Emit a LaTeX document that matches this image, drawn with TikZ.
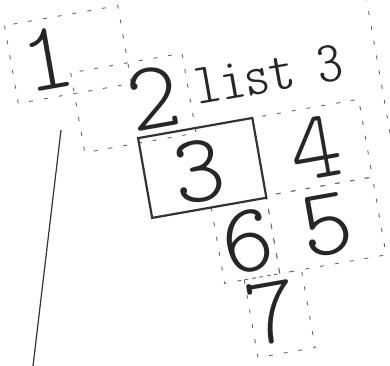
\documentclass[tikz,border=0pt]{standalone}
\usepackage{fontspec}
\begin{document}
\begin{tikzpicture}[x=1pt, y=-1pt,
  cell/.style={draw=black!60, line width=0.9pt, dash pattern=on 4pt off 11pt},
  digit/.style={inner sep=0pt, text=black!85, transform shape,
    font=\ttfamily\fontseries{l}\fontsize{98}{98}\selectfont}]
  \useasboundingbox (0,0) rectangle (390,365);
  \clip (0,0) rectangle (390,365);
  \begin{scope}[rotate=10]
    \draw[cell] (0,26) rectangle (115,105);
    \draw[cell] (57,84) rectangle (170,165);
    \draw[cell] (228,160) rectangle (336,239);
    \draw[cell] (228,239) rectangle (336,318);
    \draw[cell] (172,241) rectangle (228,318);
    \draw[cell] (192,318) rectangle (250,397);
    \draw[cell] (361,-120) -- (361,420);
    \draw[black!80, line width=2.2pt] (112,160) rectangle (228,241);
    \node[digit] (one) at (37,66) {1};
    \node[digit] (two) at (134,123) {2};
    \node[digit] (three) at (166,203) {3};
    \node[digit] (four) at (285,200) {4};
    \node[digit] (five) at (283,278) {5};
    \node[digit] (six) at (202,281) {6};
    \node[digit] (seven) at (214,355) {7};
    \node[inner sep=0pt, text=black!85, transform shape, xscale=1.22,
      font=\ttfamily\fontseries{lc}\fontsize{58}{58}\selectfont] (title) at (252,120) {list 3};
  \end{scope}
  \coordinate (stem) at (61,130);
  \coordinate (foot) at (33,366);
  \draw[black!80, line width=1.2pt] (stem) -- (foot);
\end{tikzpicture}
\end{document}
